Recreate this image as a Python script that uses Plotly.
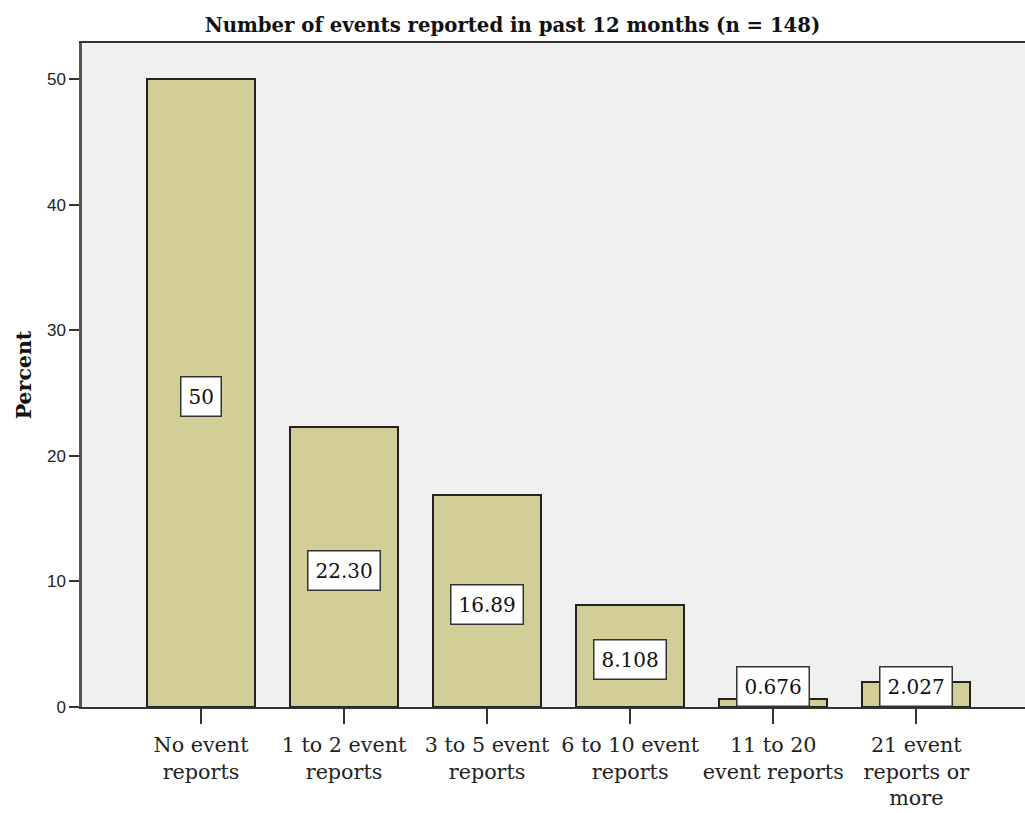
import plotly.graph_objects as go

categories = ["No event<br>reports", "1 to 2 event<br>reports", "3 to 5 event<br>reports",
              "6 to 10 event<br>reports", "11 to 20<br>event reports", "21 event<br>reports or<br>more"]
percent = [50.0, 22.30, 16.89, 8.108, 0.676, 2.027]
value_labels = ["50", "22.30", "16.89", "8.108", "0.676", "2.027"]
y_ticks = [0, 10, 20, 30, 40, 50]

xs = list(range(len(categories)))
SERIF = "DejaVu Serif"

fig = go.Figure()
fig.add_trace(go.Bar(
    x=xs, y=percent, width=0.755,
    marker=dict(color="#D3CE97", line=dict(color="#222222", width=2)),
    hoverinfo="skip",
))

for xi, v, lab in zip(xs, percent, value_labels):
    ypos = max(v / 2, 1.65)
    fig.add_annotation(
        x=xi, y=ypos, xref="x", yref="y", text=lab, showarrow=False,
        yshift=-3 if v > 5 else 0,
        font=dict(family=SERIF, size=20, color="#111111"),
        bgcolor="white", bordercolor="#333333", borderwidth=1.5, borderpad=7,
    )

fig.update_layout(
    width=1025, height=813,
    margin=dict(l=82, r=0, t=43, b=106),
    paper_bgcolor="white", plot_bgcolor="#F0F0F0",
    showlegend=False,
    title=dict(text="<b>Number of events reported in past 12 months (n = 148)</b>",
               x=0.5, xanchor="center", y=0.969, yanchor="middle",
               font=dict(family=SERIF, size=19.7, color="#111111")),
    bargap=0,
)
fig.update_xaxes(
    range=[-0.832, 5.76], tickmode="array", tickvals=xs, ticktext=categories,
    ticks="outside", ticklen=15, tickwidth=1.5, tickcolor="#333333",
    showline=True, linecolor="#333333", linewidth=1.5, mirror=True,
    showgrid=False, zeroline=False, tickangle=0, ticklabelstandoff=3,
    tickfont=dict(family=SERIF, size=20.7, color="#222222"),
)
fig.update_yaxes(
    range=[0, 52.9], tickmode="array", tickvals=y_ticks,
    ticks="outside", ticklen=10, tickwidth=1.5, tickcolor="#333333",
    showline=True, linecolor="#555555", linewidth=2.5,
    showgrid=False, zeroline=False,
    tickfont=dict(family="Liberation Sans", size=17, color="#222222"),
    title=dict(text="<b>Percent</b>", standoff=10,
               font=dict(family=SERIF, size=20.5, color="#111111")),
)

fig.write_html("out.html")
